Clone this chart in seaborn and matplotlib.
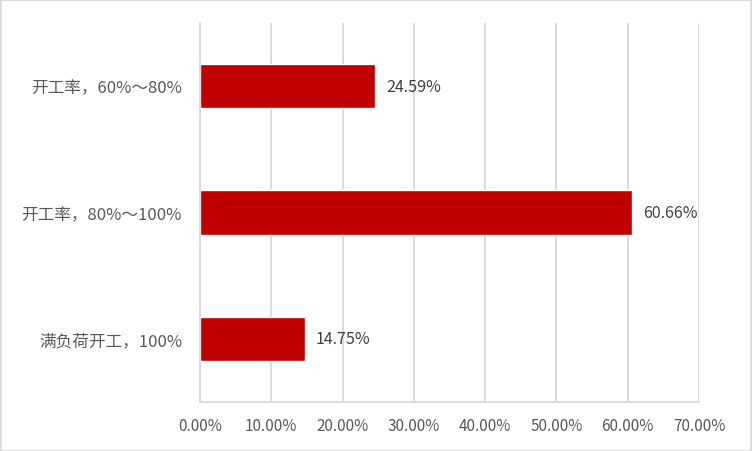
import matplotlib
matplotlib.use("Agg")
import matplotlib.pyplot as plt
import seaborn as sns
import pandas as pd
from matplotlib.patches import Rectangle
from matplotlib.ticker import FixedLocator

# data
categories = ["开工率，60%～80%", "开工率，80%～100%", "满负荷开工，100%"]
values = [24.59, 60.66, 14.75]
xticks = [0, 10, 20, 30, 40, 50, 60, 70]

sns.set_style("white")
plt.rcParams['font.family'] = ['Noto Sans CJK SC', 'DejaVu Sans']

df = pd.DataFrame({"cat": categories, "val": values})

fig = plt.figure(figsize=(7.52, 4.52), dpi=100)
ax = fig.add_axes([200 / 752, 1 - 403 / 452, 499 / 752, 379 / 452])

sns.barplot(data=df, x="val", y="cat", orient="h", color="#C00000",
            width=0.35, saturation=1, ax=ax)

ax.set_xlim(0, 70)
ax.set_ylim(2.5, -0.5)
ax.set_xticks(xticks)
ax.set_xticklabels([f"{t:.2f}%" for t in xticks])
ax.set_xlabel("")
ax.set_ylabel("")

# vertical gridlines
ax.grid(axis="x", color="#D9D9D9", linewidth=1.3)
ax.set_axisbelow(True)

for s in ["top", "right"]:
    ax.spines[s].set_visible(False)
for s in ["left", "bottom"]:
    ax.spines[s].set_color("#D9D9D9")
    ax.spines[s].set_linewidth(1.3)

ax.tick_params(axis="x", length=0, pad=11, labelsize=11, labelcolor="#595959")
ax.tick_params(axis="y", which="major", length=0, pad=13, labelsize=12, labelcolor="#595959")
ax.yaxis.set_minor_locator(FixedLocator([-0.5, 0.5, 1.5, 2.5]))
ax.tick_params(axis="y", which="minor", length=5, width=1.3, color="#D9D9D9")

# data labels
for i, v in enumerate(values):
    ax.text(v + 1.5, i, f"{v:.2f}%", va="center", ha="left",
            fontsize=11.5, color="#404040")

# outer border
fig.patches.append(Rectangle((0.001, 0.001), 0.998, 0.997, transform=fig.transFigure,
                             fill=False, edgecolor="#D9D9D9", linewidth=1.3))

fig.savefig("out.png", dpi=100)
